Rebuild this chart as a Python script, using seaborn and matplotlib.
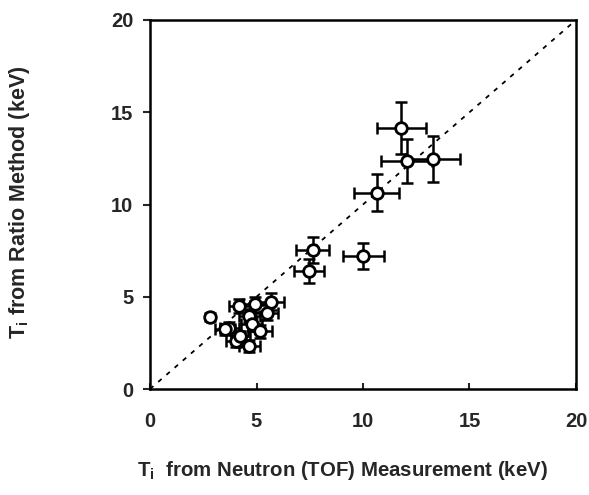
import matplotlib
matplotlib.use("Agg")
import matplotlib.pyplot as plt
import seaborn as sns
import pandas as pd

# Data (keV)
t_neutron = [11.8, 12.05, 13.27, 10.64, 7.64, 7.48, 10.02,
             2.82, 4.19, 4.93, 5.68, 4.66, 3.72, 4.77, 5.16, 4.04, 4.66, 3.52, 4.23, 5.48]
t_ratio = [14.13, 12.36, 12.48, 10.64, 7.52, 6.40, 7.21,
           3.90, 4.50, 4.59, 4.73, 3.96, 3.32, 3.51, 3.14, 2.60, 2.33, 3.24, 2.87, 4.14]
x_err = [1.15, 1.2, 1.3, 1.05, 0.77, 0.7, 0.95,
         0.15, 0.5, 0.55, 0.6, 0.5, 0.45, 0.5, 0.55, 0.45, 0.5, 0.45, 0.45, 0.55]
y_err = [1.4, 1.2, 1.25, 1.0, 0.7, 0.65, 0.7,
         0.2, 0.4, 0.4, 0.45, 0.35, 0.3, 0.35, 0.35, 0.3, 0.3, 0.3, 0.3, 0.4]
axis_ticks = [0, 5, 10, 15, 20]

df = pd.DataFrame({"x": t_neutron, "y": t_ratio, "xerr": x_err, "yerr": y_err})

sns.set_theme(style="ticks")
plt.rcParams["font.family"] = ["Liberation Sans", "DejaVu Sans"]
plt.rcParams["mathtext.fontset"] = "custom"
plt.rcParams["mathtext.bf"] = "Liberation Sans:bold"
plt.rcParams["mathtext.rm"] = "Liberation Sans"

fig = plt.figure(figsize=(5.89, 4.95), dpi=100)
ax = fig.add_axes([0.2547, 0.2141, 0.7232, 0.7455])

# identity line
sns.lineplot(x=[0, 20], y=[0, 20], ax=ax, color="black", linestyle=(0, (2.5, 3.5)),
             linewidth=1.3, zorder=1)

ax.errorbar(df["x"], df["y"], xerr=df["xerr"], yerr=df["yerr"], fmt="none",
            ecolor="black", elinewidth=1.8, capsize=4, capthick=1.8, zorder=2)
sns.scatterplot(data=df, x="x", y="y", ax=ax, marker="o", s=70,
                facecolor="white", edgecolor="black", linewidth=2.0, zorder=3)

ax.set_xlim(0, 20)
ax.set_ylim(0, 20)
ax.set_xticks(axis_ticks)
ax.set_yticks(axis_ticks)
ax.set_xticklabels([str(t) for t in axis_ticks], fontsize=14.5, fontweight="bold")
ax.set_yticklabels([str(t) for t in axis_ticks], fontsize=14.5, fontweight="bold")
ax.tick_params(axis="x", direction="in", length=4, width=1.5, pad=16.5)
ax.tick_params(axis="y", direction="out", length=5, width=1.5, pad=7)
for sp in ax.spines.values():
    sp.set_visible(True)
    sp.set_linewidth(1.8)
    sp.set_color("black")

ax.set_xlabel(r"T$_\mathbf{i}$  from Neutron (TOF) Measurement (keV)", fontsize=14.7,
              fontweight="bold")
ax.set_ylabel(r"T$_\mathbf{i}$ from Ratio Method (keV)", fontsize=15.5,
              fontweight="bold")
ax.xaxis.set_label_coords(0.452, -0.19)
ax.yaxis.set_label_coords(-0.277, 0.505)

fig.savefig("out.png", dpi=100)
